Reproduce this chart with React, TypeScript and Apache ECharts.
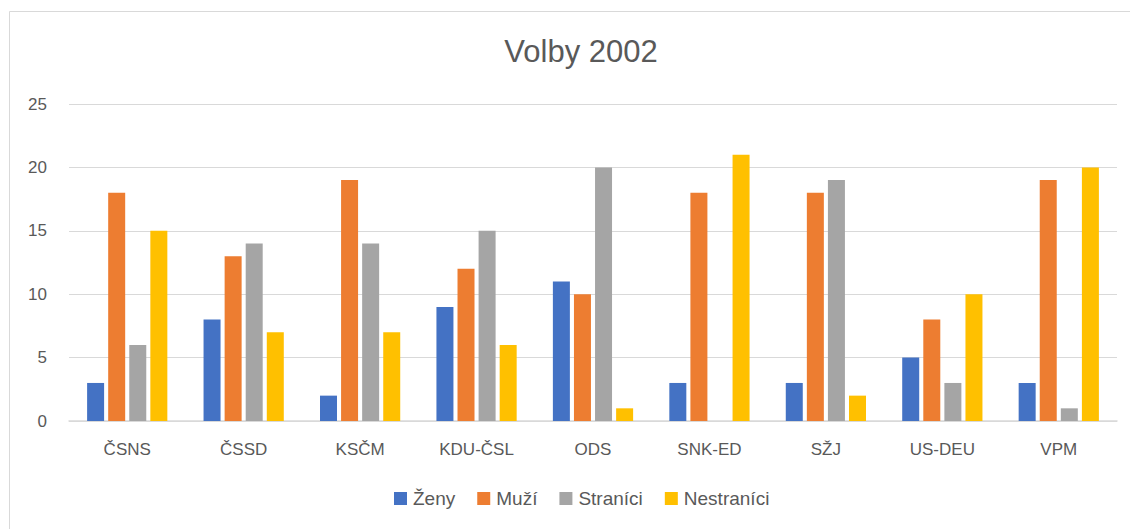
import React, { useEffect, useRef } from "react";
import * as echarts from "echarts";

const categories = ["ČSNS", "ČSSD", "KSČM", "KDU-ČSL", "ODS", "SNK-ED", "SŽJ", "US-DEU", "VPM"];
const zeny = [3, 8, 2, 9, 11, 3, 3, 5, 3];
const muzi = [18, 13, 19, 12, 10, 18, 18, 8, 19];
const stranici = [6, 14, 14, 15, 20, 0, 19, 3, 1];
const nestranici = [15, 7, 7, 6, 1, 21, 2, 10, 20];
const seriesNames = ["Ženy", "Muží", "Straníci", "Nestraníci"];
const colors = ["#4472C4", "#ED7D31", "#A5A5A5", "#FFC000"];

const FONT = "Liberation Sans";
const TEXT = "#595959";

export default function App() {
  const ref = useRef<HTMLDivElement>(null);
  useEffect(() => {
    const chart = echarts.init(ref.current!, null, { renderer: "svg" });
    const data = [zeny, muzi, stranici, nestranici];
    chart.setOption({
      animation: false,
      backgroundColor: "#ffffff",
      color: colors,
      title: {
        text: "Volby 2002",
        left: 576,
        textAlign: "center",
        top: 31,
        textStyle: { fontFamily: FONT, fontSize: 31, fontWeight: "normal", color: TEXT },
      },
      graphic: [
        {
          type: "rect",
          shape: { x: 9.5, y: 11.5, width: 1200, height: 700 },
          style: { fill: "none", stroke: "#d9d9d9", lineWidth: 1 },
          silent: true,
        },
      ],
      legend: {
        bottom: 16,
        left: 389,
        itemWidth: 13,
        itemHeight: 13,
        itemGap: 22,
        icon: "rect",
        textStyle: { fontFamily: FONT, fontSize: 19, color: TEXT, padding: [0, 0, 0, 1] },
        data: seriesNames,
      },
      grid: { left: 69, right: 13, top: 104, bottom: 108, containLabel: false },
      xAxis: {
        type: "category",
        data: categories,
        axisLine: { lineStyle: { color: "#d9d9d9", width: 1.5 } },
        axisTick: { show: false },
        axisLabel: { fontFamily: FONT, fontSize: 17, color: TEXT, margin: 20 },
      },
      yAxis: {
        type: "value",
        min: 0,
        max: 25,
        interval: 5,
        axisLine: { show: false },
        axisTick: { show: false },
        splitLine: { lineStyle: { color: "#d9d9d9", width: 1 } },
        axisLabel: { fontFamily: FONT, fontSize: 17, color: TEXT, margin: 22 },
      },
      series: seriesNames.map((name, i) => ({
        name,
        type: "bar",
        data: data[i],
        barWidth: 17,
        barGap: "24%",
        itemStyle: { color: colors[i] },
      })),
    });
    return () => chart.dispose();
  }, []);
  return (
    <div
      ref={ref}
      style={{ position: "fixed", left: 0, top: 0, width: 1130, height: 529 }}
    />
  );
}
